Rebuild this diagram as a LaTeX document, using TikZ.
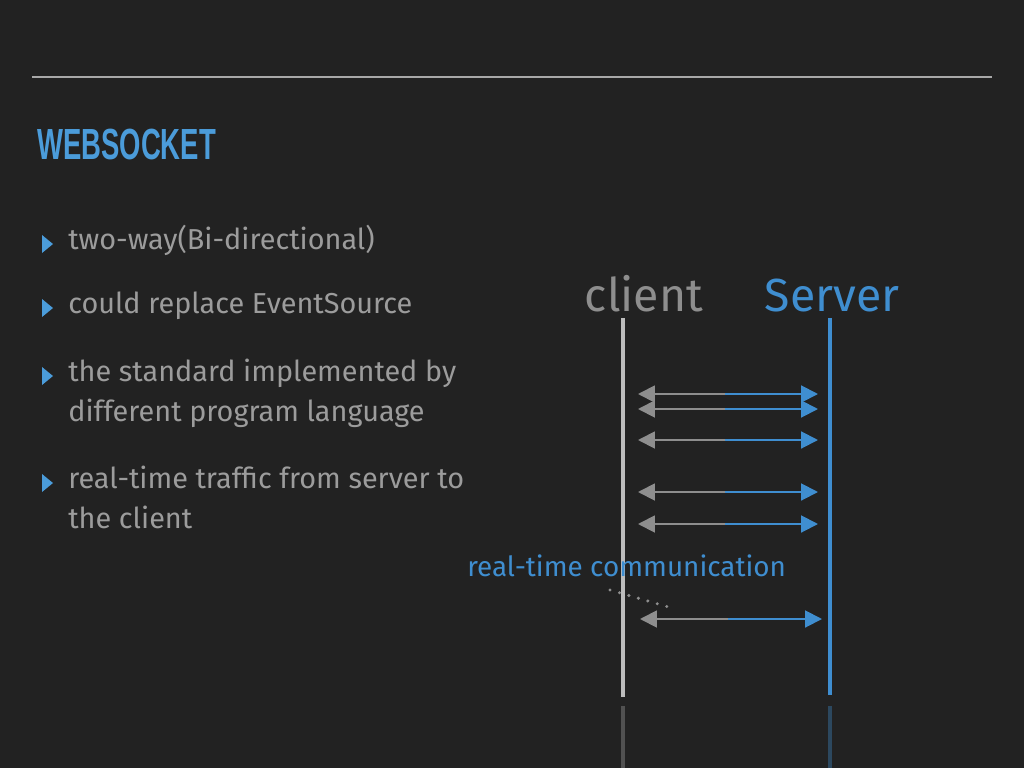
\documentclass[tikz,border=0pt]{standalone}
\usepackage{fontspec}
\setmainfont{Fira Sans}
\newfontfamily\titlefont[FakeStretch=0.63]{Liberation Sans}
\usepackage{tikz}
\usetikzlibrary{positioning}
\usetikzlibrary{calc}
\usetikzlibrary{arrows.meta}
\definecolor{slidebg}{HTML}{222222}
\definecolor{rulegray}{HTML}{A8A8A8}
\definecolor{textgray}{HTML}{9C9C9C}
\definecolor{clientgray}{HTML}{8E8E8E}
\definecolor{linegray}{HTML}{BDBDBD}
\definecolor{wsblue}{HTML}{4B9CDA}
\definecolor{srvblue}{HTML}{3F8ED0}
\tikzset{every picture/.style={x=0.025cm,y=-0.025cm}}
\tikzset{item/.style={anchor=base west,inner sep=0pt,text=textgray,font=\fontsize{20.5}{24}\selectfont},
actor/.style={anchor=base,inner sep=0pt,font=\fontsize{33}{38}\selectfont},
lifeline/.style={line width=2.8pt},
msg/.style={line width=1.4pt},
tipl/.style={{Triangle[length=12pt,width=12pt]}-},
tipr/.style={-{Triangle[length=12pt,width=12pt]}}}

\begin{document}
\begin{tikzpicture}
\fill[slidebg] (0,0) rectangle (1024,768);
\useasboundingbox (0,0) rectangle (1024,768);
\draw[rulegray,line width=1.4pt] (32,77) -- (992,77);
\node[anchor=base west,inner sep=0pt,text=wsblue,font=\titlefont\bfseries\fontsize{31}{36}\selectfont] (title) at (37,160) {WEBSOCKET};

% bullets
\node[item] (b1) at (68,249) {two-way(Bi-directional)};
\node[item] (b2) at (68,313) {could replace EventSource};
\node[item] (b3) at (68,381) {the standard implemented by};
\node[item] (b3b) at (68,421) {different program language};
\node[item] (b4) at (68,488) {real-time traffic from server to};
\node[item] (b4b) at (68,528) {the client};
\fill[wsblue] ($(b1.base west)+(-26,-14)$) -- ++(11,9) -- ++(-11,9) -- cycle;
\fill[wsblue] ($(b2.base west)+(-26,-14)$) -- ++(11,9) -- ++(-11,9) -- cycle;
\fill[wsblue] ($(b3.base west)+(-26,-14)$) -- ++(11,9) -- ++(-11,9) -- cycle;
\fill[wsblue] ($(b4.base west)+(-26,-14)$) -- ++(11,9) -- ++(-11,9) -- cycle;

% sequence
\node[actor,text=clientgray] (client) at (644,311) {client};
\node[actor,text=srvblue] (server) at (832,311) {Server};
\coordinate (ctop) at (623,318);
\coordinate (cend) at (623,697);
\coordinate (stop) at (830,318);
\coordinate (send) at (830,695);
\draw[lifeline,linegray] (ctop) -- (cend);
\draw[lifeline,srvblue] (stop) -- (send);
\draw[lifeline,linegray!30!slidebg] (623,706) -- (623,768);
\draw[lifeline,srvblue!35!slidebg] (830,706) -- (830,768);

\foreach \y [count=\i] in {394,409,440,492,524} {
  \coordinate (a\i) at (638,\y);
  \coordinate (m\i) at (725,\y);
  \coordinate (s\i) at (818,\y);
  \draw[msg,tipl,clientgray] (a\i) -- (m\i);
  \draw[msg,tipr,srvblue] (m\i) -- (s\i);
}
\coordinate (a6) at (640,619);
\coordinate (m6) at (728,619);
\coordinate (s6) at (822,619);
\draw[msg,tipl,clientgray] (a6) -- (m6);
\draw[msg,tipr,srvblue] (m6) -- (s6);

\node[item,text=srvblue,font=\fontsize{19.8}{24}\selectfont] (rt) at (467,576) {real-time communication};
\coordinate (d1) at (610,590);
\coordinate (d2) at (672,608);
\draw[clientgray,line width=2.4pt,line cap=round,dash pattern=on 0pt off 7pt] (d1) -- (d2);
\end{tikzpicture}
\end{document}
